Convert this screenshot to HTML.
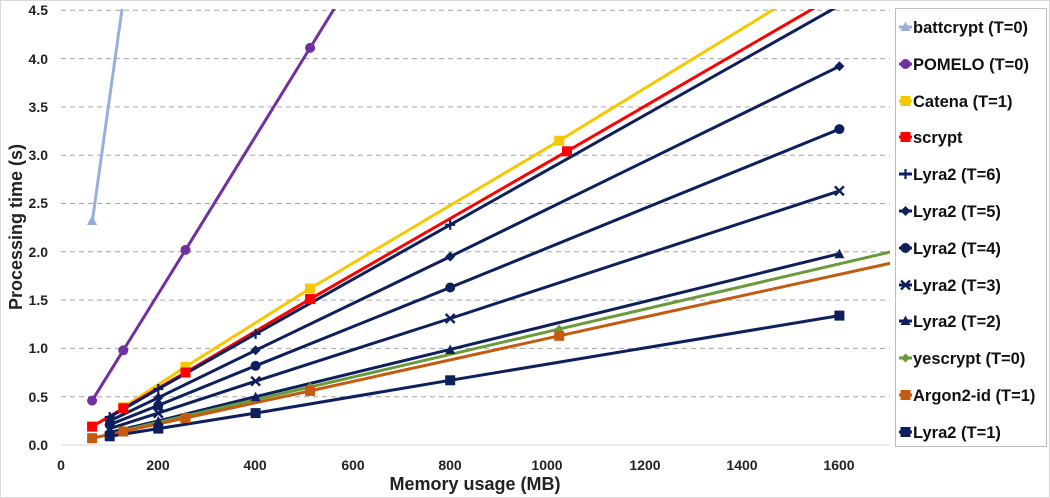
<!DOCTYPE html>
<html><head><meta charset="utf-8"><style>
html,body{margin:0;padding:0;background:#fff}
svg{display:block;font-family:"Liberation Sans",Arial,sans-serif;font-weight:bold}
</style></head><body>
<svg width="1050" height="498" viewBox="0 0 1050 498" xmlns="http://www.w3.org/2000/svg">
<rect x="0.5" y="0.5" width="1049" height="497" fill="#fff" stroke="#d9d9d9"/>
<defs><clipPath id="c"><rect x="61" y="9" width="829" height="437"/></clipPath></defs>
<g stroke="#a6a6a6" stroke-dasharray="5,4" stroke-width="1">
<line x1="61" x2="890" y1="396.7" y2="396.7"/><line x1="61" x2="890" y1="348.4" y2="348.4"/>
<line x1="61" x2="890" y1="300.1" y2="300.1"/><line x1="61" x2="890" y1="251.8" y2="251.8"/>
<line x1="61" x2="890" y1="203.5" y2="203.5"/><line x1="61" x2="890" y1="155.2" y2="155.2"/>
<line x1="61" x2="890" y1="106.9" y2="106.9"/><line x1="61" x2="890" y1="58.6" y2="58.6"/>
<line x1="61" x2="890" y1="10.3" y2="10.3"/>
</g>
<line x1="61" x2="890" y1="445" y2="445" stroke="#d9d9d9"/>
<g font-size="14" fill="#222" text-anchor="end">
<text x="48" y="450">0.0</text><text x="48" y="402">0.5</text><text x="48" y="353">1.0</text>
<text x="48" y="305">1.5</text><text x="48" y="257">2.0</text><text x="48" y="208">2.5</text>
<text x="48" y="160">3.0</text><text x="48" y="112">3.5</text><text x="48" y="64">4.0</text><text x="48" y="15">4.5</text>
</g>
<g font-size="14" fill="#222" text-anchor="middle">
<text x="61" y="470">0</text><text x="158" y="470">200</text><text x="255" y="470">400</text>
<text x="353" y="470">600</text><text x="450" y="470">800</text><text x="547" y="470">1000</text>
<text x="645" y="470">1200</text><text x="742" y="470">1400</text><text x="839" y="470">1600</text>
</g>
<text x="475" y="490" font-size="18" text-anchor="middle" fill="#222">Memory usage (MB)</text>
<text transform="translate(22,227) rotate(-90)" font-size="18" text-anchor="middle" fill="#222">Processing time (s)</text>
<g clip-path="url(#c)" fill="none" stroke-width="3">
<polyline stroke="#9aaedb" points="92.1,222.8 123.3,-0"/>
<polyline stroke="#7030a0" points="92.1,400.6 123.3,350.3 185.5,249.9 310.1,47.9 559.2,-357"/>
<polyline stroke="#f5c800" points="123.3,407.3 185.5,366.8 310.1,288.5 559.2,140.7 1057,-164"/>
<polyline stroke="#ff0000" points="92.1,426.6 123.3,408.3 185.5,372.5 310.1,299.1 567,151.3 1073,-142"/>
<polyline stroke="#0d1f5c" points="109.7,417 158.3,389 255.6,333.9 450.2,224.8 839.4,5.5"/>
<polyline stroke="#0d1f5c" points="109.7,420.9 158.3,397.7 255.6,350.3 450.2,256.6 839.4,66.3"/>
<polyline stroke="#0d1f5c" points="109.7,424.7 158.3,405.4 255.6,365.8 450.2,287.5 839.4,129.1"/>
<polyline stroke="#0d1f5c" points="109.7,428.6 158.3,413.1 255.6,381.2 450.2,318.5 839.4,190.9"/>
<polyline stroke="#0d1f5c" points="109.7,432.4 158.3,420.9 255.6,396.7 450.2,349.4 839.4,253.7"/>
<polyline stroke="#6a9a3b" points="123.3,430.5 185.5,416 310.1,387 559.2,329.1 1057,213.2"/>
<polyline stroke="#c55a11" points="92.1,438.2 123.3,431.5 185.5,418 310.1,390.9 559.2,335.8 1057,226.7"/>
<polyline stroke="#0d1f5c" points="109.7,436.3 158.3,428.6 255.6,413.1 450.2,380.3 839.4,315.6"/>
</g>
<polygon points="92.1,215 87,225 97.2,225" fill="#9aaedb"/>
<g fill="#7030a0"><circle cx="92.1" cy="400.6" r="5"/><circle cx="123.3" cy="350.3" r="5"/><circle cx="185.5" cy="249.9" r="5"/><circle cx="310.1" cy="47.9" r="5"/></g>
<g fill="#f5c800"><rect x="118.3" y="402.3" width="10" height="10"/><rect x="180.5" y="361.8" width="10" height="10"/><rect x="305.1" y="283.5" width="10" height="10"/><rect x="554.2" y="135.7" width="10" height="10"/></g>
<g fill="#ff0000"><rect x="87.1" y="421.6" width="10" height="10"/><rect x="118.3" y="403.3" width="10" height="10"/><rect x="180.5" y="367.5" width="10" height="10"/><rect x="305.1" y="294.1" width="10" height="10"/><rect x="562" y="146.3" width="10" height="10"/></g>
<g stroke="#0d1f5c" stroke-width="2.2"><path d="M104.7 417h10M109.7 412v10M153.3 389h10M158.3 384v10M250.6 333.9h10M255.6 328.9v10M445.2 224.8h10M450.2 219.8v10"/></g>
<g fill="#0d1f5c"><path d="M109.7 416l5 5-5 5-5-5zM158.3 392.7l5 5-5 5-5-5zM255.6 345.3l5 5-5 5-5-5zM450.2 251.6l5 5-5 5-5-5zM839.4 61.3l5 5-5 5-5-5z"/>
<circle cx="109.7" cy="424.7" r="5"/><circle cx="158.3" cy="405.4" r="5"/><circle cx="255.6" cy="365.8" r="5"/><circle cx="450.2" cy="287.5" r="5"/><circle cx="839.4" cy="129.1" r="5"/>
<polygon points="109.7,427.5 104.7,437 114.7,437"/><polygon points="158.3,416 153.3,425.5 163.3,425.5"/><polygon points="255.6,391.7 250.6,401.2 260.6,401.2"/><polygon points="450.2,344.5 445.2,354 455.2,354"/><polygon points="839.4,248.8 834.4,258.3 844.4,258.3"/>
<rect x="104.7" y="431.3" width="10" height="10"/><rect x="153.3" y="423.6" width="10" height="10"/><rect x="250.6" y="408.1" width="10" height="10"/><rect x="445.2" y="375.3" width="10" height="10"/><rect x="834.4" y="310.6" width="10" height="10"/></g>
<g stroke="#0d1f5c" stroke-width="2.4"><path d="M105.2 424.1l9 9M114.2 424.1l-9 9M153.8 408.6l9 9M162.8 408.6l-9 9M251.1 376.7l9 9M260.1 376.7l-9 9M445.7 314l9 9M454.7 314l-9 9M834.9 186.4l9 9M843.9 186.4l-9 9"/></g>
<g fill="#6a9a3b"><path d="M123.3 426l4.5 4.5-4.5 4.5-4.5-4.5zM185.5 411.5l4.5 4.5-4.5 4.5-4.5-4.5zM310.1 382.5l4.5 4.5-4.5 4.5-4.5-4.5zM559.2 324.6l4.5 4.5-4.5 4.5-4.5-4.5z"/></g>
<g fill="#c55a11"><rect x="87.1" y="433.2" width="10" height="10"/><rect x="118.3" y="426.5" width="10" height="10"/><rect x="180.5" y="413" width="10" height="10"/><rect x="305.1" y="385.9" width="10" height="10"/><rect x="554.2" y="330.8" width="10" height="10"/></g>
<rect x="895.5" y="8.5" width="151" height="438" fill="#fff" stroke="#bfbfbf"/>
<g font-size="16.5" fill="#111">
<text x="913" y="33">battcrypt (T=0)</text><text x="913" y="70">POMELO (T=0)</text>
<text x="913" y="107">Catena (T=1)</text><text x="913" y="143">scrypt</text>
<text x="913" y="180">Lyra2 (T=6)</text><text x="913" y="217">Lyra2 (T=5)</text>
<text x="913" y="254">Lyra2 (T=4)</text><text x="913" y="291">Lyra2 (T=3)</text>
<text x="913" y="327">Lyra2 (T=2)</text><text x="913" y="364">yescrypt (T=0)</text>
<text x="913" y="401">Argon2-id (T=1)</text><text x="913" y="438">Lyra2 (T=1)</text>
</g>
<g stroke-width="3">
<line x1="899" x2="912" y1="27" y2="27" stroke="#9aaedb"/><polygon points="905.5,21.5 900.5,31 910.5,31" fill="#9aaedb"/>
<line x1="899" x2="912" y1="64" y2="64" stroke="#7030a0"/><circle cx="905.5" cy="64" r="5" fill="#7030a0"/>
<line x1="899" x2="912" y1="101" y2="101" stroke="#f5c800"/><rect x="900.5" y="96" width="10" height="10" fill="#f5c800"/>
<line x1="899" x2="912" y1="137" y2="137" stroke="#f00"/><rect x="900.5" y="132" width="10" height="10" fill="#f00"/>
<line x1="899" x2="912" y1="174" y2="174" stroke="#0d1f5c"/><path d="M905.5 169v10" stroke="#0d1f5c" stroke-width="2.2"/>
<line x1="899" x2="912" y1="211" y2="211" stroke="#0d1f5c"/><path d="M905.5 206l5 5-5 5-5-5z" fill="#0d1f5c"/>
<line x1="899" x2="912" y1="248" y2="248" stroke="#0d1f5c"/><circle cx="905.5" cy="248" r="5" fill="#0d1f5c"/>
<line x1="899" x2="912" y1="285" y2="285" stroke="#0d1f5c"/><path d="M901 280.5l9 9M910 280.5l-9 9" stroke="#0d1f5c" stroke-width="2.4"/>
<line x1="899" x2="912" y1="321" y2="321" stroke="#0d1f5c"/><polygon points="905.5,315.5 900.5,325 910.5,325" fill="#0d1f5c"/>
<line x1="899" x2="912" y1="358" y2="358" stroke="#6a9a3b"/><path d="M905.5 353.5l4.5 4.5-4.5 4.5-4.5-4.5z" fill="#6a9a3b"/>
<line x1="899" x2="912" y1="395" y2="395" stroke="#c55a11"/><rect x="900.5" y="390" width="10" height="10" fill="#c55a11"/>
<line x1="899" x2="912" y1="432" y2="432" stroke="#0d1f5c"/><rect x="900.5" y="427" width="10" height="10" fill="#0d1f5c"/>
</g>
</svg>
</body></html>
